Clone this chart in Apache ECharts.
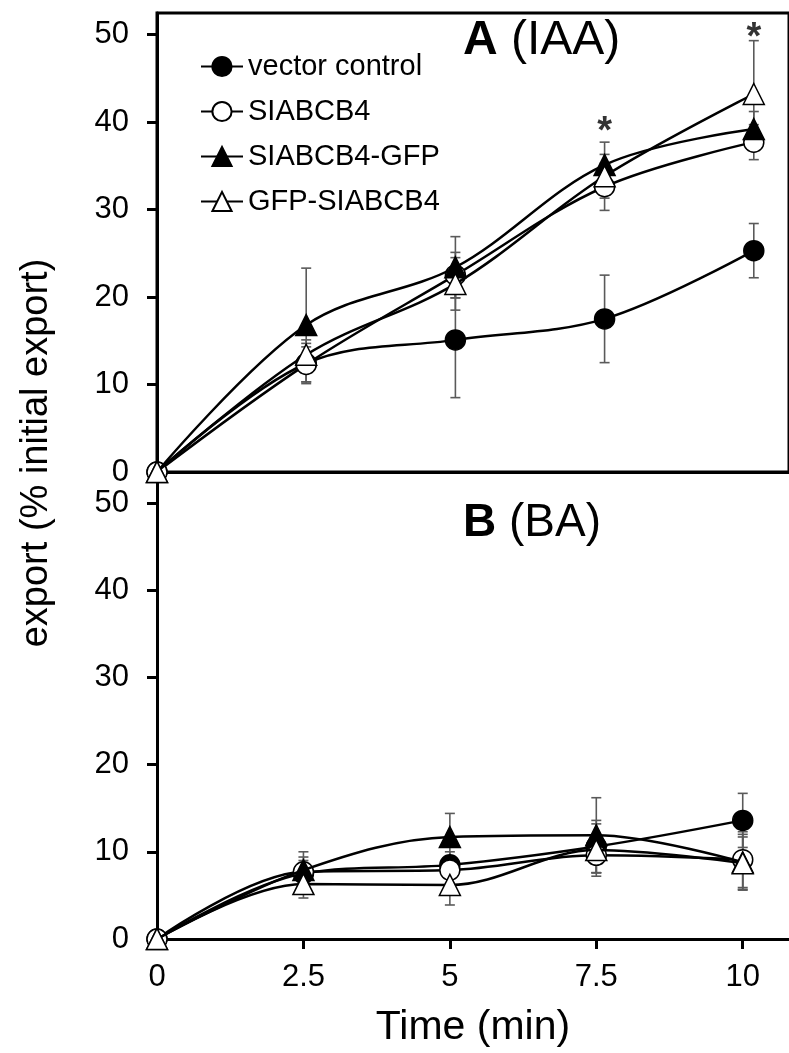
<!DOCTYPE html>
<html>
<head>
<meta charset="utf-8">
<script src="https://cdn.jsdelivr.net/npm/echarts@6/dist/echarts.min.js"></script>
<style>
  html, body { margin: 0; padding: 0; background: #fff; }
  #main { width: 789px; height: 1053px; }
</style>
</head>
<body>
<div id="main"></div>
<script>
// 时间点 (min)
var times = [0, 2.5, 5, 7.5, 10];
var seriesNames = ['vector control', 'SIABCB4', 'SIABCB4-GFP', 'GFP-SIABCB4'];
var yTicks = [0, 10, 20, 30, 40, 50];
var xTicks = [0, 2.5, 5, 7.5, 10];

// A (IAA) 均值与误差
var iaaVector = [0, 12.4, 15.1, 17.5, 25.3];
var iaaVectorSd = [0, 2.3, 6.6, 5.0, 3.1];
var iaaSl = [0, 12.3, 22.5, 32.6, 37.7];
var iaaSlSd = [0, 2.0, 2.6, 2.7, 2.0];
var iaaSlGfp = [0, 16.8, 23.4, 35.1, 39.2];
var iaaSlGfpSd = [0, 6.5, 3.5, 2.6, 2.0];
var iaaGfpSl = [0, 13.4, 21.5, 33.8, 43.2];
var iaaGfpSlSd = [0, 1.7, 3.0, 2.5, 6.1];

// B (BA) 均值与误差
var baVector = [0, 7.5, 8.5, 10.6, 13.6];
var baVectorSd = [0, 1.5, 1.5, 3.0, 3.1];
var baSl = [0, 7.7, 7.9, 9.6, 9.1];
var baSlSd = [0, 1.7, 1.5, 2.0, 3.2];
var baSlGfp = [0, 7.9, 11.7, 11.9, 8.8];
var baSlGfpSd = [0, 2.1, 2.7, 4.3, 3.2];
var baGfpSl = [0, 6.3, 6.2, 10.2, 8.7];
var baGfpSlSd = [0, 1.6, 2.3, 3.0, 3.0];

// 显著性标记 (*)
var sigX = [7.5, 10];
var sigY = [40, 50.7];

var font = 'Liberation Sans, Arial, sans-serif';
var symbols = ['circle', 'circle', 'triangle', 'triangle'];
var fills = ['#000', '#fff', '#000', '#fff'];

function pairs(vals) {
    return times.map(function (t, i) { return [t, vals[i]]; });
}

function lineSeries(idx, vals, axis) {
    return {
        name: seriesNames[idx],
        type: 'line',
        xAxisIndex: axis,
        yAxisIndex: axis,
        data: pairs(vals),
        smooth: 0.35,
        clip: false,
        symbol: symbols[idx],
        symbolSize: idx >= 2 ? 21 : 20,
        z: 5 + idx,
        lineStyle: {color: '#000', width: 2.5},
        itemStyle: {color: fills[idx], borderColor: '#000', borderWidth: 1.5, opacity: 1}
    };
}

function errSeries(vals, sds, axis) {
    var data = [];
    times.forEach(function (t, i) {
        if (sds[i] > 0) data.push([t, vals[i] - sds[i], vals[i] + sds[i]]);
    });
    return {
        type: 'custom',
        xAxisIndex: axis,
        yAxisIndex: axis,
        silent: true,
        z: 2,
        data: data,
        renderItem: function (params, api) {
            var lo = api.coord([api.value(0), api.value(1)]);
            var hi = api.coord([api.value(0), api.value(2)]);
            var w = 5;
            var st = {stroke: '#5a5a5a', lineWidth: 1.6};
            return {
                type: 'group',
                children: [
                    {type: 'line', shape: {x1: hi[0], y1: hi[1], x2: lo[0], y2: lo[1]}, style: st},
                    {type: 'line', shape: {x1: hi[0] - w, y1: hi[1], x2: hi[0] + w, y2: hi[1]}, style: st},
                    {type: 'line', shape: {x1: lo[0] - w, y1: lo[1], x2: lo[0] + w, y2: lo[1]}, style: st}
                ]
            };
        }
    };
}

var myChart = echarts.init(document.getElementById('main'));

var yAxisBase = {
    type: 'value',
    min: 0,
    interval: 10,
    splitLine: {show: false},
    axisLine: {show: true, lineStyle: {color: '#000', width: 3}},
    axisTick: {show: true, inside: false, length: 10, customValues: yTicks, lineStyle: {color: '#000', width: 3}},
    axisLabel: {customValues: yTicks, color: '#000', fontFamily: font, fontSize: 31, margin: 28}
};

var option = {
    animation: false,
    backgroundColor: '#fff',
    grid: [
        {left: 157, right: -10, top: 13, height: 459, show: true, borderColor: '#000', borderWidth: 3, backgroundColor: 'transparent'},
        {left: 157, right: -10, top: 472, height: 467}
    ],
    xAxis: [
        {
            type: 'value', gridIndex: 0, min: 0, max: 10.59,
            splitLine: {show: false},
            axisLine: {show: true, onZero: false, lineStyle: {color: '#000', width: 3}},
            axisTick: {show: false},
            axisLabel: {show: false}
        },
        {
            type: 'value', gridIndex: 1, min: 0, max: 10.79, interval: 2.5,
            splitLine: {show: false},
            axisLine: {show: true, onZero: false, lineStyle: {color: '#000', width: 3}},
            axisTick: {show: true, length: 10, customValues: xTicks, lineStyle: {color: '#000', width: 3}},
            axisLabel: {customValues: xTicks, color: '#000', fontFamily: font, fontSize: 31, margin: 23},
            name: 'Time (min)',
            nameLocation: 'middle',
            nameGap: 68,
            nameTextStyle: {color: '#000', fontFamily: font, fontSize: 41}
        }
    ],
    yAxis: [
        Object.assign({}, yAxisBase, {gridIndex: 0, max: 52.46}),
        Object.assign({}, yAxisBase, {gridIndex: 1, max: 53.55})
    ],
    legend: {
        data: seriesNames,
        orient: 'vertical',
        left: 195,
        top: 47,
        itemWidth: 42,
        itemHeight: 24,
        itemGap: 16,
        textStyle: {color: '#000', fontFamily: font, fontSize: 29}
    },
    graphic: [
        {
            type: 'text', left: 463, top: 17,
            style: {
                text: '{b|A} (IAA)',
                fill: '#000',
                font: '48px ' + font,
                rich: {b: {fontWeight: 'bold', fontSize: 48, fontFamily: font, fill: '#000'}}
            }
        },
        {
            type: 'text', left: 463, top: 500,
            style: {
                text: '{b|B} (BA)',
                fill: '#000',
                font: '46px ' + font,
                rich: {b: {fontWeight: 'bold', fontSize: 46, fontFamily: font, fill: '#000'}}
            }
        },
        {
            type: 'text', x: 37, y: 453, rotation: Math.PI / 2,
            style: {
                text: 'export (% initial export)',
                fill: '#000',
                font: '38px ' + font,
                textAlign: 'center',
                textVerticalAlign: 'middle'
            }
        }
    ],
    series: [
        errSeries(iaaVector, iaaVectorSd, 0),
        errSeries(iaaSl, iaaSlSd, 0),
        errSeries(iaaSlGfp, iaaSlGfpSd, 0),
        errSeries(iaaGfpSl, iaaGfpSlSd, 0),
        lineSeries(0, iaaVector, 0),
        lineSeries(1, iaaSl, 0),
        lineSeries(2, iaaSlGfp, 0),
        lineSeries(3, iaaGfpSl, 0),
        errSeries(baVector, baVectorSd, 1),
        errSeries(baSl, baSlSd, 1),
        errSeries(baSlGfp, baSlGfpSd, 1),
        errSeries(baGfpSl, baGfpSlSd, 1),
        lineSeries(0, baVector, 1),
        lineSeries(1, baSl, 1),
        lineSeries(2, baSlGfp, 1),
        lineSeries(3, baGfpSl, 1),
        {
            type: 'scatter',
            xAxisIndex: 0,
            yAxisIndex: 0,
            symbolSize: 0,
            silent: true,
            z: 20,
            data: sigX.map(function (x, i) { return [x, sigY[i]]; }),
            label: {show: true, formatter: '*', position: 'inside', offset: [0, 10], color: '#000', fontFamily: font, fontWeight: 'bold', fontSize: 38}
        }
    ]
};

myChart.setOption(option);
</script>
</body>
</html>
